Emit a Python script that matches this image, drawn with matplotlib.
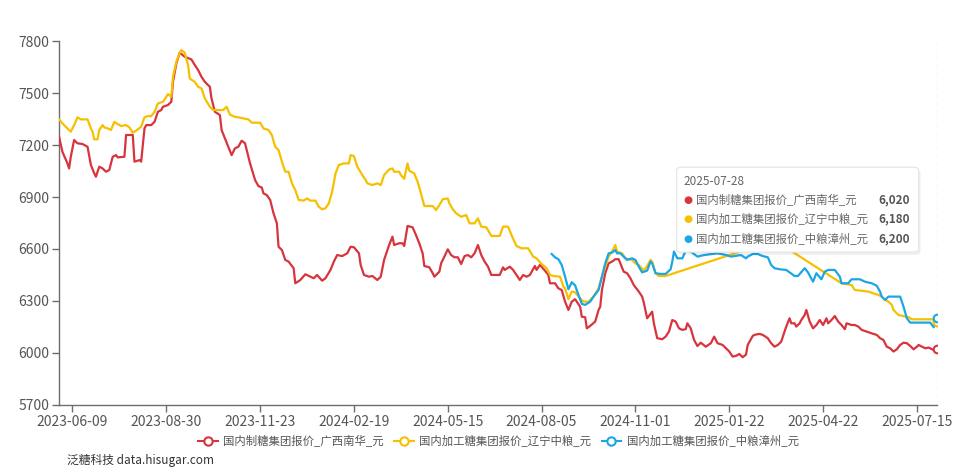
import matplotlib
matplotlib.use('Agg')
import matplotlib.pyplot as plt
from matplotlib.lines import Line2D
from matplotlib.patches import FancyBboxPatch

plt.rcParams['font.family'] = ['Noto Sans CJK SC', 'DejaVu Sans']

# 系列名
names = ['国内制糖集团报价_广西南华_元', '国内加工糖集团报价_辽宁中粮_元', '国内加工糖集团报价_中粮漳州_元']
colors = ['#d7343e', '#f6c000', '#1ba6e6']

# x轴日期标签 (交易日序号 8 起, 每 56 个一个标签)
tick_dates = ['2023-06-09', '2023-08-30', '2023-11-23', '2024-02-19', '2024-05-15',
              '2024-08-05', '2024-11-01', '2025-01-22', '2025-04-22', '2025-07-15']
last_date = '2025-07-28'
first_tick = 8
tick_step = 56
n_days = 525

# 广西南华
red_idx = [0, 2, 5, 6, 7, 9, 11, 14, 17, 19, 21, 22, 24, 26, 28, 30, 32, 34, 35, 39,
           40, 44, 45, 48, 49, 51, 52, 55, 57, 59, 61, 62, 65, 67, 68, 70, 72, 75, 79, 81,
           83, 85, 87, 90, 91, 93, 96, 97, 99, 101, 103, 105, 107, 109, 111, 114, 117, 119, 121, 122,
           124, 126, 128, 130, 131, 133, 135, 137, 140, 141, 144, 147, 150, 152, 154, 157, 159, 162, 164, 166,
           169, 172, 174, 176, 179, 180, 182, 185, 187, 190, 192, 194, 197, 199, 200, 203, 205, 206, 208, 211,
           213, 215, 217, 218, 221, 223, 224, 227, 228, 230, 232, 234, 236, 238, 240, 242, 244, 246, 248, 250,
           252, 254, 256, 258, 263, 265, 266, 269, 271, 273, 275, 277, 279, 281, 284, 285, 287, 290, 292, 293,
           296, 298, 300, 302, 304, 306, 308, 311, 312, 314, 315, 317, 320, 322, 323, 324, 326, 328, 330, 332,
           334, 335, 337, 339, 341, 343, 345, 346, 348, 349, 351, 354, 355, 357, 360, 362, 364, 366, 368, 370,
           372, 374, 375, 377, 379, 381, 383, 386, 389, 391, 393, 396, 398, 400, 402, 404, 406, 408, 410, 411,
           414, 415, 418, 420, 423, 425, 427, 429, 431, 433, 434, 436, 437, 439, 440, 442, 443, 445, 446, 448,
           450, 452, 454, 456, 458, 459, 461, 463, 465, 467, 469, 470, 473, 475, 477, 479, 482, 485, 488, 490,
           492, 494, 496, 498, 500, 502, 504, 506, 508, 510, 512, 513, 515, 517, 519, 521, 523, 524]
red_val = [7248, 7161, 7094, 7065, 7132, 7229, 7210, 7206, 7190, 7085, 7037, 7017, 7075, 7065, 7046, 7056, 7132, 7142, 7129, 7132,
           7258, 7258, 7104, 7113, 7104, 7296, 7315, 7315, 7334, 7392, 7402, 7421, 7431, 7450, 7565, 7671, 7733, 7710, 7694, 7662,
           7633, 7594, 7565, 7536, 7469, 7392, 7373, 7287, 7238, 7190, 7142, 7181, 7190, 7225, 7210, 7094, 6998, 6963, 6955, 6921,
           6911, 6883, 6806, 6748, 6613, 6594, 6537, 6527, 6489, 6402, 6421, 6454, 6440, 6431, 6450, 6417, 6431, 6479, 6527, 6565,
           6559, 6575, 6613, 6610, 6575, 6508, 6450, 6440, 6444, 6421, 6440, 6537, 6623, 6671, 6623, 6633, 6633, 6617, 6733, 6725,
           6681, 6633, 6575, 6502, 6494, 6460, 6440, 6469, 6517, 6556, 6598, 6565, 6552, 6552, 6513, 6559, 6565, 6552, 6575, 6623,
           6565, 6527, 6498, 6450, 6450, 6494, 6479, 6498, 6479, 6450, 6421, 6450, 6440, 6450, 6502, 6479, 6508, 6475, 6450, 6402,
           6402, 6373, 6363, 6296, 6248, 6296, 6310, 6267, 6209, 6206, 6142, 6156, 6181, 6248, 6267, 6363, 6460, 6517, 6527, 6541,
           6541, 6517, 6469, 6460, 6431, 6392, 6367, 6354, 6325, 6290, 6200, 6238, 6171, 6085, 6079, 6094, 6123, 6190, 6181, 6142,
           6133, 6137, 6171, 6142, 6075, 6040, 6059, 6036, 6056, 6094, 6056, 6046, 6027, 6008, 5979, 5983, 5994, 5975, 5990, 6046,
           6098, 6104, 6110, 6104, 6085, 6056, 6036, 6046, 6065, 6123, 6152, 6200, 6171, 6171, 6152, 6171, 6190, 6219, 6248, 6181,
           6142, 6161, 6190, 6161, 6200, 6171, 6190, 6213, 6181, 6161, 6137, 6171, 6161, 6161, 6152, 6133, 6123, 6113, 6104, 6085,
           6075, 6036, 6027, 6008, 6021, 6046, 6059, 6056, 6040, 6021, 6036, 6046, 6036, 6027, 6031, 6021, 6013, 6020]

# 辽宁中粮
yel_idx = [0, 3, 5, 7, 9, 11, 13, 17, 19, 20, 21, 23, 24, 26, 27, 29, 31, 33, 35, 37,
           40, 42, 44, 47, 49, 51, 53, 55, 57, 59, 62, 63, 65, 67, 68, 70, 72, 73, 75, 77,
           78, 81, 83, 85, 87, 90, 92, 96, 98, 100, 102, 105, 107, 113, 115, 120, 122, 125, 127, 129,
           131, 133, 135, 137, 139, 141, 143, 146, 148, 150, 153, 155, 157, 159, 161, 163, 165, 167, 170, 173,
           174, 176, 178, 181, 183, 184, 187, 190, 192, 194, 197, 199, 200, 203, 204, 206, 208, 209, 212, 214,
           216, 218, 223, 225, 227, 229, 232, 233, 235, 237, 240, 243, 245, 248, 250, 252, 255, 258, 263, 265,
           268, 270, 273, 276, 280, 283, 285, 288, 291, 293, 295, 299, 301, 302, 304, 306, 308, 311, 313, 316,
           319, 322, 324, 326, 328, 330, 332, 333, 336, 338, 340, 342, 344, 346, 349, 351, 353, 354, 356, 358,
           362, 427, 467, 473, 475, 478, 483, 486, 489, 491, 493, 495, 497, 498, 500, 501, 507, 509, 521, 524]
yel_val = [7348, 7315, 7296, 7277, 7315, 7360, 7348, 7348, 7296, 7277, 7233, 7233, 7287, 7315, 7302, 7296, 7287, 7334, 7321, 7310,
           7315, 7302, 7271, 7290, 7306, 7360, 7367, 7367, 7392, 7440, 7450, 7463, 7494, 7479, 7594, 7681, 7733, 7748, 7733, 7662,
           7584, 7565, 7536, 7527, 7469, 7421, 7402, 7402, 7402, 7421, 7375, 7363, 7360, 7348, 7329, 7329, 7296, 7287, 7258, 7190,
           7171, 7104, 7046, 7046, 6979, 6940, 6883, 6879, 6892, 6879, 6879, 6844, 6829, 6835, 6863, 6931, 7036, 7085, 7094, 7094,
           7142, 7136, 7075, 7027, 6998, 6979, 6969, 6979, 6969, 7027, 7059, 7065, 7046, 7046, 7027, 7005, 7094, 7052, 7036, 6988,
           6921, 6848, 6848, 6825, 6854, 6887, 6892, 6863, 6829, 6806, 6786, 6796, 6748, 6748, 6777, 6729, 6725, 6675, 6675, 6729,
           6729, 6681, 6617, 6604, 6604, 6556, 6546, 6513, 6489, 6450, 6444, 6440, 6383, 6373, 6310, 6354, 6350, 6315, 6296, 6296,
           6325, 6373, 6440, 6498, 6556, 6585, 6623, 6585, 6575, 6546, 6541, 6537, 6517, 6508, 6475, 6502, 6537, 6527, 6460, 6444,
           6444, 6650, 6402, 6392, 6363, 6360, 6354, 6344, 6335, 6325, 6306, 6296, 6277, 6248, 6229, 6219, 6206, 6194, 6194, 6180]

# 中粮漳州
blu_idx = [294, 296, 298, 300, 302, 304, 306, 308, 310, 312, 314, 317, 319, 322, 324, 326, 328, 330, 332, 333,
           335, 337, 339, 342, 344, 346, 348, 351, 353, 354, 356, 359, 362, 365, 366, 367, 369, 372, 374, 377,
           381, 385, 393, 398, 401, 407, 410, 411, 414, 417, 420, 423, 425, 427, 430, 434, 439, 441, 445, 447,
           450, 452, 455, 457, 459, 463, 466, 467, 471, 473, 478, 481, 485, 488, 490, 491, 493, 495, 502, 504,
           506, 508, 520, 522, 524]
blu_val = [6571, 6552, 6541, 6508, 6440, 6368, 6408, 6390, 6335, 6283, 6277, 6296, 6325, 6363, 6440, 6517, 6575, 6579, 6594, 6575,
           6575, 6556, 6537, 6546, 6537, 6498, 6465, 6475, 6527, 6517, 6460, 6456, 6456, 6483, 6527, 6585, 6546, 6546, 6590, 6585,
           6556, 6565, 6575, 6565, 6556, 6565, 6546, 6556, 6571, 6571, 6559, 6552, 6508, 6489, 6483, 6479, 6444, 6444, 6489, 6465,
           6411, 6460, 6425, 6469, 6479, 6479, 6440, 6402, 6402, 6425, 6425, 6411, 6402, 6388, 6354, 6325, 6306, 6325, 6325, 6267,
           6200, 6175, 6175, 6148, 6200]

series = [(red_idx, red_val), (yel_idx, yel_val), (blu_idx, blu_val)]

fig = plt.figure(figsize=(9.68, 4.67), dpi=100)
ax = fig.add_axes([0.061, 0.133, 0.907, 0.779])

for (xs, ys), c in zip(series, colors):
    ax.plot(xs, ys, color=c, lw=1.6, solid_joinstyle='round', zorder=3)
    # 悬停点
    ax.plot(xs[-1], ys[-1], marker='o', ms=5.5, mfc='white', mec=c, mew=1.5, zorder=5)

# 悬停竖线
ax.axvline(red_idx[-1], color='#cccccc', lw=0.9, ls=(0, (3, 3)), zorder=2)

ax.set_xlim(0, n_days - 1)
ax.set_ylim(5700, 7800)
ax.set_yticks(range(5700, 7801, 300))
ax.set_xticks([first_tick + tick_step * i for i in range(len(tick_dates))])
ax.set_xticklabels(tick_dates, fontsize=10)

for s in ['top', 'right']:
    ax.spines[s].set_visible(False)
for s in ['left', 'bottom']:
    ax.spines[s].set_color('#6e6e6e')
    ax.spines[s].set_linewidth(1)
ax.tick_params(axis='both', colors='#6e6e6e', labelcolor='#555555', labelsize=10,
               length=5, width=1, direction='out', pad=2)

# 提示框
box = FancyBboxPatch((0.699, 0.460), 0.250, 0.182, transform=fig.transFigure,
                     boxstyle='round,pad=0,rounding_size=0.006', fc='white', ec='#e4e4e4',
                     lw=0.8, zorder=10)
shadow = FancyBboxPatch((0.701, 0.454), 0.250, 0.182, transform=fig.transFigure,
                        boxstyle='round,pad=0,rounding_size=0.006', fc='#000000', ec='none',
                        alpha=0.06, zorder=9)
fig.patches.extend([shadow, box])
fig.text(0.706, 0.612, last_date, fontsize=8.5, color='#666666', va='center', zorder=11)
tip_vals = [red_val[-1], yel_val[-1], blu_val[-1]]
for i, (n, c, v) in enumerate(zip(names, colors, tip_vals)):
    yy = 0.572 - i * 0.0415
    fig.text(0.7105, yy, '●', fontsize=7.5, color=c, ha='center', va='center', zorder=11,
             family=['DejaVu Sans'])
    fig.text(0.719, yy, n, fontsize=8.2, color='#666666', va='center', zorder=11)
    fig.text(0.940, yy, f'{v:,}', fontsize=8.5, color='#555555', fontweight='bold',
             ha='right', va='center', zorder=11)

# 图例
handles = [Line2D([], [], color=c, lw=1.5, marker='o', ms=6, mfc='white', mec=c, mew=1.5)
           for c in colors]
fig.legend(handles, names, loc='center', bbox_to_anchor=(0.515, 0.056), ncol=3,
           frameon=False, fontsize=8.2, labelcolor='#555555', handlelength=1.7,
           handletextpad=0.5, columnspacing=0.9)

fig.text(0.069, 0.015, '泛糖科技 data.hisugar.com', fontsize=8.5, color='#333333', va='center')

fig.savefig('out.png', dpi=100, facecolor='white')
